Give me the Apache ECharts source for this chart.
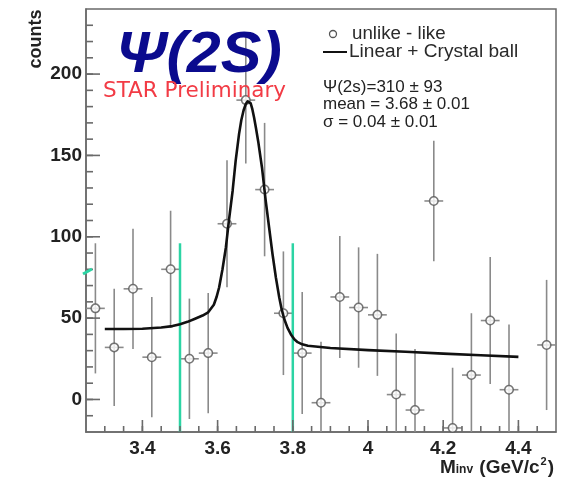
<!DOCTYPE html>
<html>
<head>
<meta charset="utf-8">
<script src="https://cdn.jsdelivr.net/npm/echarts@6/dist/echarts.min.js"></script>
<style>
  html, body { margin: 0; padding: 0; background: #fff; }
  #chart { width: 566px; height: 479px; }
</style>
</head>
<body>
<div id="chart"></div>
<script>
// Invariant-mass spectrum (unlike-sign minus like-sign pairs), 0.05 GeV/c^2 bins
const binCenters = [3.275, 3.325, 3.375, 3.425, 3.475, 3.525, 3.575, 3.625, 3.675, 3.725,
                    3.775, 3.825, 3.875, 3.925, 3.975, 4.025, 4.075, 4.125, 4.175, 4.225,
                    4.275, 4.325, 4.375, 4.475];
const counts     = [56, 32, 68, 26, 80, 25, 28.5, 108, 184, 129,
                    53, 28.5, -2, 63, 56.5, 52, 3, -6.5, 122, -17.5,
                    15, 48.5, 6, 33.5];
const countErrs  = [40, 36, 37, 37, 36, 37, 37, 39, 39, 41,
                    38, 37.5, 37.5, 37.5, 37, 37.5, 37.5, 37.5, 37, 37,
                    38, 39, 40, 40];
const binHalfWidth = 0.025;

// Fitted Linear + Crystal Ball curve, sampled along the fit range
const fitMass   = [3.30, 3.35, 3.40, 3.45, 3.48, 3.50, 3.52, 3.54, 3.56, 3.575,
                   3.59, 3.597, 3.604, 3.613, 3.622, 3.630, 3.640, 3.648, 3.657, 3.663,
                   3.669, 3.675, 3.680, 3.684, 3.688, 3.692, 3.697, 3.702, 3.708, 3.718,
                   3.728, 3.737, 3.746, 3.755, 3.764, 3.770, 3.777, 3.786, 3.795, 3.804,
                   3.813, 3.825, 3.84, 3.90, 4.00, 4.10, 4.20, 4.30, 4.40];
const fitCounts = [43.3, 43.3, 43.5, 44.2, 45.1, 46.3, 47.7, 49.6, 51.6, 53.6,
                   58.2, 62.8, 68.8, 80.0, 93.4, 109.8, 128.3, 146.7, 163.1, 171.6,
                   177.6, 181.6, 183.3, 183.4, 182.0, 178.8, 173.3, 166.8, 158.6, 142.6,
                   122.1, 105.7, 89.4, 75.0, 62.7, 55.8, 49.6, 44.0, 40.0, 37.0,
                   35.2, 33.9, 33.0, 31.6, 30.3, 29.3, 28.2, 27.2, 26.2];

// Signal window markers
const windowEdges = [3.5, 3.8];
const windowTop = 96;

// Axes
const xRange = [3.25, 4.5];
const yRange = [-20, 240];
const xMajorTicks = [3.4, 3.6, 3.8, 4.0, 4.2, 4.4];
const yMajorTicks = [0, 50, 100, 150, 200];
const xMinorStep = 0.05;
const yMinorStep = 10;

const frameColor = '#6a6a6a';
const barColor = '#8a8a8a';
const greenColor = '#2cd4a4';
const labelFont = '"Liberation Sans", Arial, sans-serif';

const clampY = v => Math.max(yRange[0], Math.min(yRange[1], v));

// inward ticks along the bottom (x) and left (y) edges of the frame
const xMinorTickValues = [];
for (let k = 1; xRange[0] + k * xMinorStep < xRange[1] - 1e-9; k++) {
  xMinorTickValues.push(+(xRange[0] + k * xMinorStep).toFixed(3));
}
const yMinorTickValues = [];
for (let k = 1; yRange[0] + k * yMinorStep < yRange[1]; k++) {
  yMinorTickValues.push(yRange[0] + k * yMinorStep);
}

const chart = echarts.init(document.getElementById('chart'), null, { renderer: 'canvas' });

const option = {
  animation: false,
  backgroundColor: '#ffffff',
  grid: {
    left: 86, right: 10, top: 9, bottom: 47,
    show: true, borderColor: frameColor, borderWidth: 1.5
  },
  xAxis: {
    type: 'value', position: 'bottom', min: xRange[0], max: xRange[1], interval: xMinorStep,
    axisLine: { show: true, onZero: false, lineStyle: { color: frameColor, width: 1.5 } },
    axisTick: { show: false },
    axisLabel: {
      customValues: xMajorTicks, margin: 7,
      fontFamily: labelFont, fontWeight: 'bold', fontSize: 19, color: '#222',
      formatter: v => String(+(+v).toFixed(1))
    },
    splitLine: { show: false }
  },
  yAxis: {
    type: 'value', position: 'left', min: yRange[0], max: yRange[1], interval: yMinorStep,
    axisLine: { show: true, onZero: false, lineStyle: { color: frameColor, width: 1.5 } },
    axisTick: { show: false },
    axisLabel: {
      customValues: yMajorTicks, margin: 4,
      fontFamily: labelFont, fontWeight: 'bold', fontSize: 19, color: '#222'
    },
    splitLine: { show: false }
  },
  series: [
    {
      // frame ticks: minor and major, x along the bottom, y along the left edge
      type: 'custom',
      name: 'frame ticks',
      z: 6,
      silent: true,
      clip: false,
      data: [0],
      renderItem: (params, api) => {
        const children = [];
        const style = { stroke: frameColor, lineWidth: 1.6 };
        const addX = (v, len) => {
          const p = api.coord([v, yRange[0]]);
          children.push({ type: 'line', shape: { x1: p[0], y1: p[1], x2: p[0], y2: p[1] - len }, style });
        };
        const addY = (v, len) => {
          const p = api.coord([xRange[0], v]);
          children.push({ type: 'line', shape: { x1: p[0], y1: p[1], x2: p[0] + len, y2: p[1] }, style });
        };
        xMinorTickValues.forEach(v => addX(v, 6));
        xMajorTicks.forEach(v => addX(v, 12));
        yMinorTickValues.forEach(v => addY(v, 7));
        yMajorTicks.forEach(v => addY(v, 14));
        return { type: 'group', children };
      }
    },
    {
      // vertical statistical errors and horizontal bin widths
      type: 'custom',
      name: 'errors',
      z: 2,
      data: binCenters.map((x, i) => [x, counts[i], countErrs[i]]),
      renderItem: (params, api) => {
        const x = api.value(0), y = api.value(1), e = api.value(2);
        const top = api.coord([x, clampY(y + e)]);
        const bot = api.coord([x, clampY(y - e)]);
        const l = api.coord([x - binHalfWidth, y]);
        const r = api.coord([x + binHalfWidth, y]);
        const style = { stroke: barColor, lineWidth: 1.6 };
        const children = [
          { type: 'line', shape: { x1: top[0], y1: top[1], x2: bot[0], y2: bot[1] }, style }
        ];
        if (y >= yRange[0]) {
          children.push({ type: 'line', shape: { x1: l[0], y1: l[1], x2: r[0], y2: r[1] }, style });
        }
        return { type: 'group', children };
      }
    },
    {
      type: 'scatter',
      name: 'unlike - like',
      z: 3,
      symbol: 'circle',
      symbolSize: 8.5,
      itemStyle: { color: '#ffffff', borderColor: '#555555', borderWidth: 1.5 },
      data: binCenters.map((x, i) => [x, counts[i]])
    },
    {
      // signal window
      type: 'custom',
      name: 'window',
      z: 4,
      data: windowEdges.map(x => [x, windowTop]),
      renderItem: (params, api) => {
        const x = api.value(0);
        const top = api.coord([x, api.value(1)]);
        const bot = api.coord([x, yRange[0]]);
        return { type: 'line', shape: { x1: top[0], y1: top[1], x2: bot[0], y2: bot[1] },
                 style: { stroke: greenColor, lineWidth: 2.5 } };
      }
    },
    {
      type: 'line',
      name: 'Linear + Crystal ball',
      z: 5,
      smooth: false,
      showSymbol: false,
      lineStyle: { color: '#111111', width: 2.6, join: 'round' },
      data: fitMass.map((x, i) => [x, fitCounts[i]])
    }
  ],
  graphic: [
    // particle label
    { type: 'text', x: 116, y: 28, scaleX: 1.07, z: 10,
      style: { text: 'Ψ(2S)', font: 'italic bold 57px "Liberation Sans", Arial, sans-serif',
               fill: '#0b0b8e' } },
    { type: 'text', x: 103, y: 91, z: 10,
      style: { text: 'STAR Preliminary', font: '21.5px "DejaVu Sans", sans-serif',
               fill: '#f23b45', verticalAlign: 'middle' } },
    // legend
    { type: 'circle', z: 10, shape: { cx: 333, cy: 34, r: 3.5 },
      style: { fill: '#fff', stroke: '#555', lineWidth: 1.3 } },
    { type: 'text', x: 352, y: 34, z: 10, scaleX: 1.04,
      style: { text: 'unlike - like', font: '18px "Liberation Sans", Arial, sans-serif',
               fill: '#2a2a2a', verticalAlign: 'middle' } },
    { type: 'line', z: 10, shape: { x1: 323, y1: 52, x2: 347, y2: 52 },
      style: { stroke: '#111', lineWidth: 2 } },
    { type: 'text', x: 349, y: 52, z: 10, scaleX: 1.06,
      style: { text: 'Linear + Crystal ball', font: '18px "Liberation Sans", Arial, sans-serif',
               fill: '#2a2a2a', verticalAlign: 'middle' } },
    // fit results
    { type: 'text', x: 323, y: 87, z: 10,
      style: { text: 'Ψ(2s)=310 ± 93', font: '17px "Liberation Sans", Arial, sans-serif',
               fill: '#222', verticalAlign: 'middle' } },
    { type: 'text', x: 323, y: 104, z: 10,
      style: { text: 'mean = 3.68 ± 0.01', font: '17px "Liberation Sans", Arial, sans-serif',
               fill: '#222', verticalAlign: 'middle' } },
    { type: 'text', x: 323, y: 122, z: 10,
      style: { text: 'σ = 0.04 ± 0.01', font: '17px "Liberation Sans", Arial, sans-serif',
               fill: '#222', verticalAlign: 'middle' } },
    // axis titles
    { type: 'text', x: 36, y: 39, rotation: Math.PI / 2, z: 10,
      style: { text: 'counts', font: 'bold 18px "Liberation Sans", Arial, sans-serif',
               fill: '#222', align: 'center', verticalAlign: 'middle' } },
    { type: 'text', right: 12, top: 456, z: 10,
      style: {
        text: '{b|M}{sub|inv}{b| (GeV/c}{sup|2}{b|)}',
        rich: {
          b:   { font: 'bold 19px "Liberation Sans", Arial, sans-serif', fill: '#222', verticalAlign: 'bottom' },
          sub: { font: 'bold 12px "Liberation Sans", Arial, sans-serif', fill: '#222', padding: [6, 1, 0, 0] },
          sup: { font: 'bold 11px "Liberation Sans", Arial, sans-serif', fill: '#222', padding: [0, 1, 10, 1] }
        }
      } },
    // small green stroke on the left edge
    { type: 'line', z: 10, shape: { x1: 83, y1: 274, x2: 92, y2: 269 },
      style: { stroke: greenColor, lineWidth: 3 } }
  ]
};

chart.setOption(option);
</script>
</body>
</html>
